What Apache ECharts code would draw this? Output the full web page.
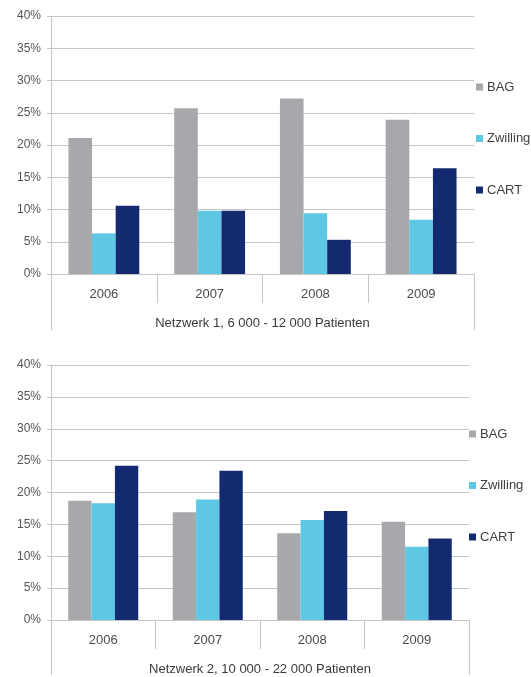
<!DOCTYPE html>
<html>
<head>
<meta charset="utf-8">
<script src="https://cdn.jsdelivr.net/npm/echarts@6/dist/echarts.min.js"></script>
<style>
  html, body { margin: 0; padding: 0; background: #fff; }
  #main { width: 531px; height: 677px; }
</style>
</head>
<body>
<div id="main"></div>
<script>
// categories and values (percent)
const years = ['2006', '2007', '2008', '2009'];
const seriesNames = ['BAG', 'Zwilling', 'CART'];
const yTicks = [0, 5, 10, 15, 20, 25, 30, 35, 40];

const net1Bag = [21.1, 25.7, 27.2, 23.9];
const net1Zwilling = [6.3, 9.8, 9.4, 8.4];
const net1Cart = [10.6, 9.8, 5.3, 16.4];

const net2Bag = [18.7, 16.9, 13.6, 15.4];
const net2Zwilling = [18.3, 18.9, 15.7, 11.5];
const net2Cart = [24.2, 23.4, 17.1, 12.8];

const titles = ['Netzwerk 1, 6 000 - 12 000 Patienten', 'Netzwerk 2, 10 000 - 22 000 Patienten'];

const colors = ['#a6a8ab', '#5ec8e4', '#142a70'];
const lineColor = '#c6c6c6';
const font = 'Liberation Sans, Arial, sans-serif';

// layout of the two panels
const panels = [
  { left: 51, right: 57, top: 16, height: 258, tail: 56, legendLeft: 476, legendTop: 80 },
  { left: 51, right: 62, top: 365, height: 255, tail: 55, legendLeft: 469, legendTop: 427 },
];
const W = 531;

const chart = echarts.init(document.getElementById('main'), null, { renderer: 'canvas' });

const grids = [];
const xAxes = [];
const yAxes = [];
const legends = [];
const graphics = [];
const series = [];
const data = [
  [net1Bag, net1Zwilling, net1Cart],
  [net2Bag, net2Zwilling, net2Cart],
];

panels.forEach((p, i) => {
  grids.push({ left: p.left, right: p.right, top: p.top, height: p.height });
  xAxes.push({
    type: 'category',
    gridIndex: i,
    data: years,
    axisLine: { show: true, lineStyle: { color: lineColor, width: 1 } },
    axisTick: { show: true, interval: 0, length: 29, lineStyle: { color: lineColor } },
    axisLabel: { margin: 14, fontSize: 13, color: '#4a4a4a', fontFamily: font },
    name: titles[i],
    nameLocation: 'middle',
    nameGap: 43,
    nameTextStyle: { fontSize: 13, color: '#3a3a3a', fontFamily: font },
  });
  yAxes.push({
    type: 'value',
    gridIndex: i,
    min: yTicks[0],
    max: yTicks[yTicks.length - 1],
    interval: 5,
    axisLine: { show: true, lineStyle: { color: lineColor } },
    axisTick: { show: true, length: 4, lineStyle: { color: lineColor } },
    axisLabel: { formatter: '{value}%', margin: 10, fontSize: 12, color: '#555', fontFamily: font },
    splitLine: { show: true, lineStyle: { color: lineColor, width: 1 } },
  });
  legends.push({
    orient: 'vertical',
    left: p.legendLeft,
    top: p.legendTop,
    padding: 0,
    itemWidth: 7,
    itemHeight: 7,
    itemGap: 37.5,
    icon: 'rect',
    data: seriesNames,
    textStyle: { fontSize: 13, lineHeight: 14, color: '#404040', fontFamily: font, padding: [0, 0, 0, -1] },
  });
  // extend left / right frame lines below the category row
  const bottom = p.top + p.height;
  [p.left, W - p.right].forEach(x => {
    graphics.push({
      type: 'line',
      shape: { x1: x + 0.5, y1: bottom, x2: x + 0.5, y2: bottom + p.tail },
      style: { stroke: lineColor, lineWidth: 1 },
    });
  });
  seriesNames.forEach((name, k) => {
    series.push({
      name,
      type: 'bar',
      xAxisIndex: i,
      yAxisIndex: i,
      data: data[i][k],
      barGap: 0,
      barCategoryGap: '33%',
      itemStyle: { color: colors[k] },
    });
  });
});

chart.setOption({
  animation: false,
  color: colors,
  grid: grids,
  xAxis: xAxes,
  yAxis: yAxes,
  legend: legends,
  graphic: graphics,
  series,
});
</script>
</body>
</html>
